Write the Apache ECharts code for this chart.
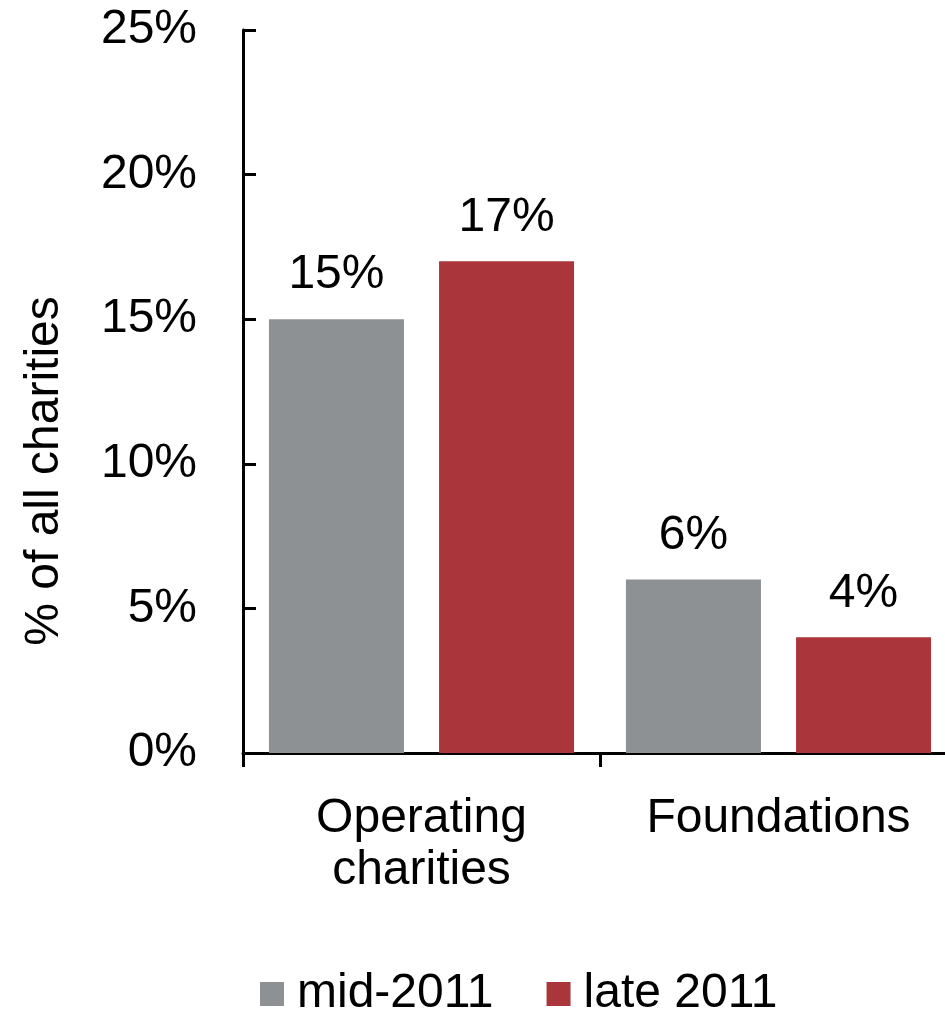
<!DOCTYPE html>
<html>
<head>
<meta charset="utf-8">
<script src="https://cdn.jsdelivr.net/npm/echarts@6/dist/echarts.min.js"></script>
<style>html,body{margin:0;padding:0;background:#fff;}#c{width:945px;height:1011px;}</style>
</head>
<body>
<div id="c"></div>
<script>
var categories = ['Operating\ncharities', 'Foundations'];
var seriesNames = ['mid-2011', 'late 2011'];
var mid2011 = [15, 6];
var late2011 = [17, 4];
var yTicks = { min: 0, max: 25, interval: 5 };
var yAxisTitle = '% of all charities';

var FONT = '"Liberation Sans", Arial, Helvetica, sans-serif';
var chart = echarts.init(document.getElementById('c'), null, { renderer: 'canvas' });
var labelCfg = {
  show: true, position: 'top', distance: 20,
  formatter: '{c}%', color: '#000', fontSize: 48, fontFamily: FONT
};
chart.setOption({
  animation: false,
  textStyle: { fontFamily: FONT },
  grid: { left: 243, top: 30, bottom: 258, right: -12, containLabel: false, outerBoundsMode: 'none' },
  legend: {
    left: 255, top: 965,
    itemWidth: 24, itemHeight: 24, itemGap: 53,
    icon: 'rect',
    textStyle: { fontSize: 48, color: '#000', fontFamily: FONT, padding: [0, 0, 0, 8] },
    data: seriesNames
  },
  graphic: [{
    type: 'text',
    x: 45, y: 471,
    rotation: Math.PI / 2,
    style: {
      text: yAxisTitle, fontSize: 48, fontFamily: FONT, fill: '#000',
      textAlign: 'center', textVerticalAlign: 'middle'
    }
  }],
  xAxis: {
    type: 'category',
    data: categories,
    axisLine: { lineStyle: { color: '#000', width: 3 } },
    axisTick: { show: true, length: 14, lineStyle: { color: '#000', width: 3 } },
    axisLabel: { color: '#000', fontSize: 48, fontFamily: FONT, margin: 40, lineHeight: 52 }
  },
  yAxis: {
    type: 'value',
    min: yTicks.min, max: yTicks.max, interval: yTicks.interval,
    axisLine: { show: true, lineStyle: { color: '#000', width: 3 } },
    axisTick: { show: true, inside: true, length: 13, lineStyle: { color: '#000', width: 3 } },
    splitLine: { show: false },
    axisLabel: { color: '#000', fontSize: 48, fontFamily: FONT, margin: 46, formatter: '{value}%' }
  },
  series: [
    { name: seriesNames[0], type: 'bar', data: mid2011, barWidth: 135, barGap: '26%',
      itemStyle: { color: '#8E9194' }, label: labelCfg },
    { name: seriesNames[1], type: 'bar', data: late2011, barWidth: 135, barGap: '26%',
      itemStyle: { color: '#AA363C' }, label: labelCfg }
  ]
});
</script>
</body>
</html>
